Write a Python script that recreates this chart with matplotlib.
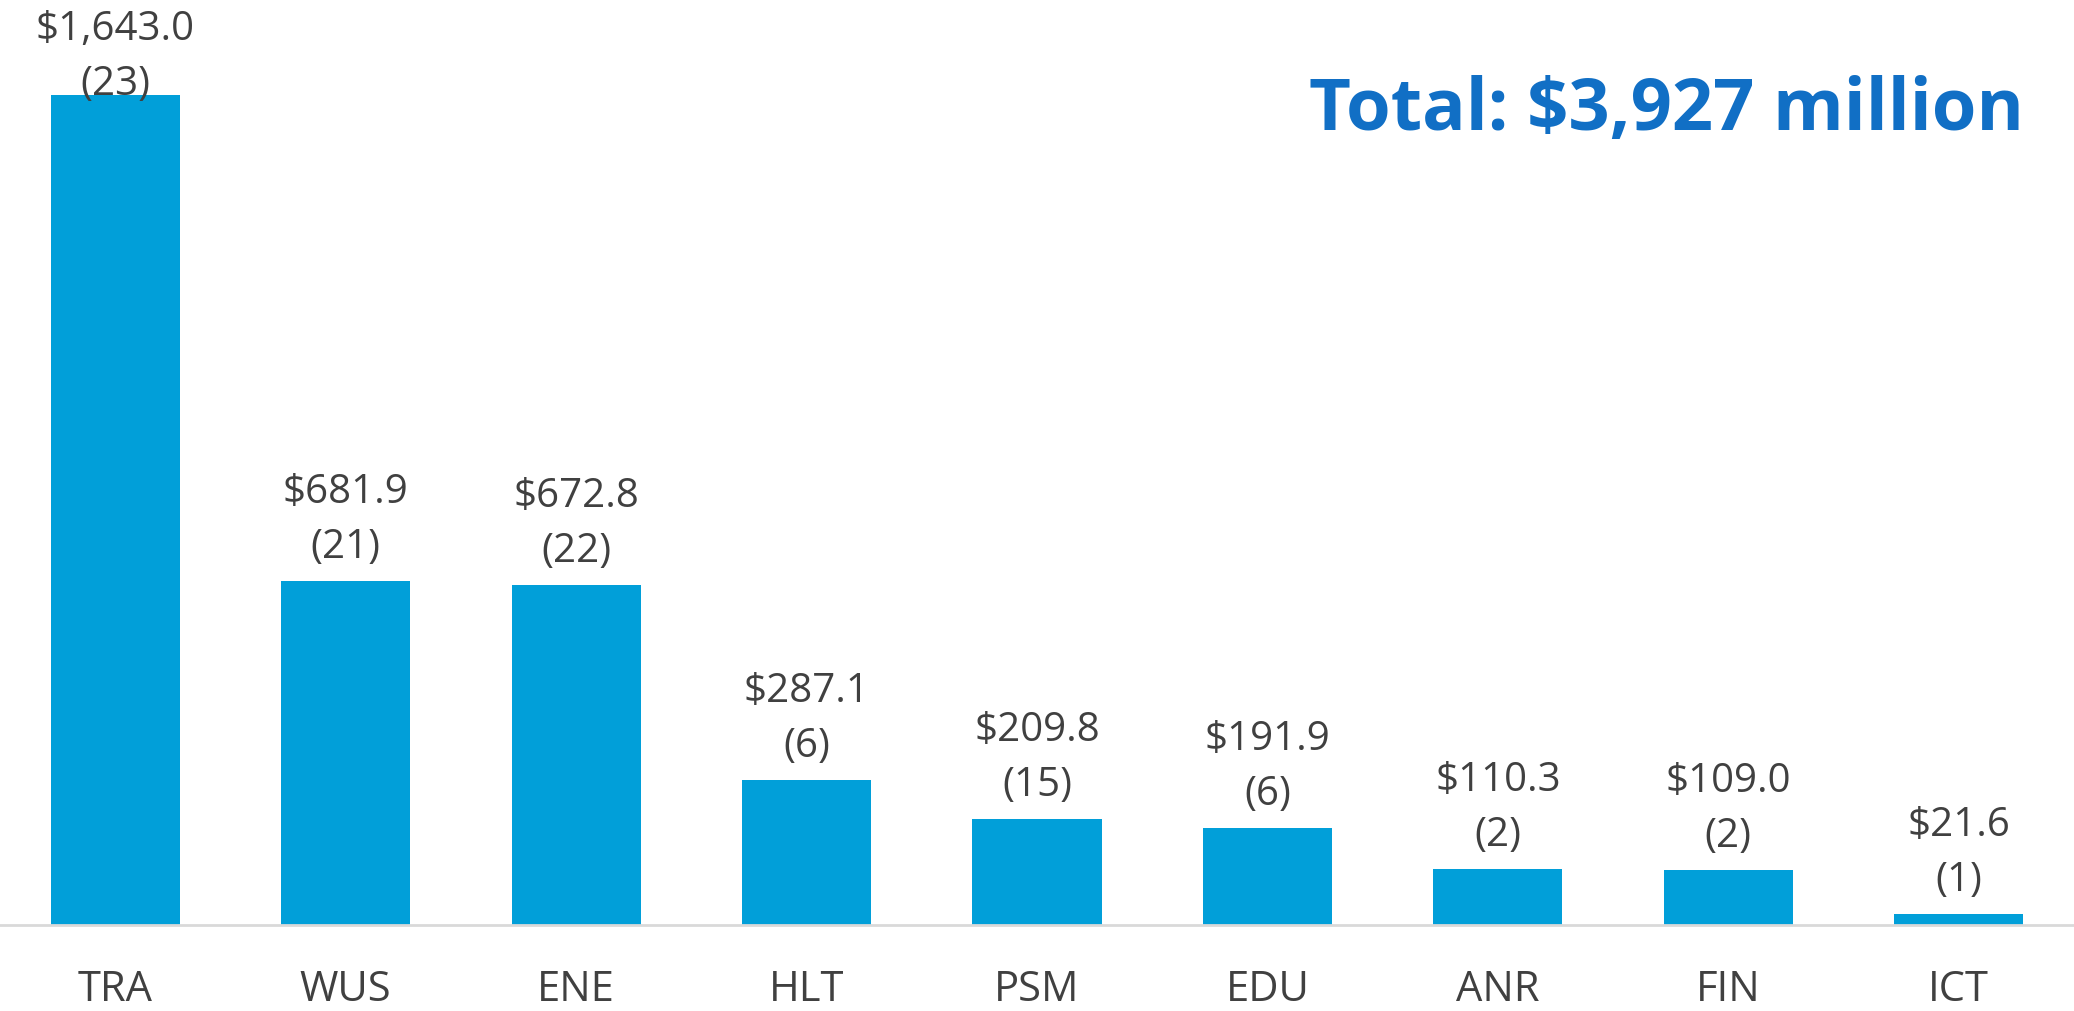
import matplotlib
matplotlib.use("Agg")
import matplotlib.pyplot as plt

categories = ["TRA", "WUS", "ENE", "HLT", "PSM", "EDU", "ANR", "FIN", "ICT"]
amounts = [1643.0, 681.9, 672.8, 287.1, 209.8, 191.9, 110.3, 109.0, 21.6]
counts = [23, 21, 22, 6, 15, 6, 2, 2, 1]
total_text = "Total: $3,927 million"

W, H, DPI = 2074, 1012, 100
BAR_COLOR = "#019FD9"
TEXT_COLOR = "#404040"
TITLE_COLOR = "#116FC5"
FONT = ["Open Sans", "DejaVu Sans"]

fig = plt.figure(figsize=(W / DPI, H / DPI), dpi=DPI)
base_px = 926
ax = fig.add_axes([0, 1 - base_px / H, 1, base_px / H])
x = list(range(len(categories)))
ax.bar(x, amounts, width=0.56, color=BAR_COLOR, zorder=2)
ax.set_xlim(-0.5, len(categories) - 0.5)
ax.set_ylim(0, 1834)
for s in ["top", "right", "left"]:
    ax.spines[s].set_visible(False)
ax.spines["bottom"].set_color("#D9D9D9")
ax.spines["bottom"].set_linewidth(2)
ax.set_yticks([])
ax.set_xticks(x)
ax.set_xticklabels(categories, fontsize=30, color=TEXT_COLOR, family=FONT)
ax.tick_params(axis="x", length=0, pad=31)

pt = 72 / DPI
for xi, a, c in zip(x, amounts, counts):
    top_px = ax.transData.transform((xi, a))[1]
    top_from_top = H - top_px
    gap = 24
    if top_from_top - gap - 55 < 40:
        gap = top_from_top - 40 - 55
    ax.annotate(f"({c})", (xi, a), xytext=(0, gap * pt), textcoords="offset points",
                ha="center", va="baseline", fontsize=29, color=TEXT_COLOR, family=FONT)
    ax.annotate(f"${a:,.1f}", (xi, a), xytext=(0, (gap + 55) * pt), textcoords="offset points",
                ha="center", va="baseline", fontsize=29, color=TEXT_COLOR, family=FONT)

fig.text(2024 / W, 1 - 130 / H, total_text, ha="right", va="baseline",
         fontsize=52, fontweight="bold", color=TITLE_COLOR, family=FONT)

fig.savefig("out.png", dpi=DPI)
